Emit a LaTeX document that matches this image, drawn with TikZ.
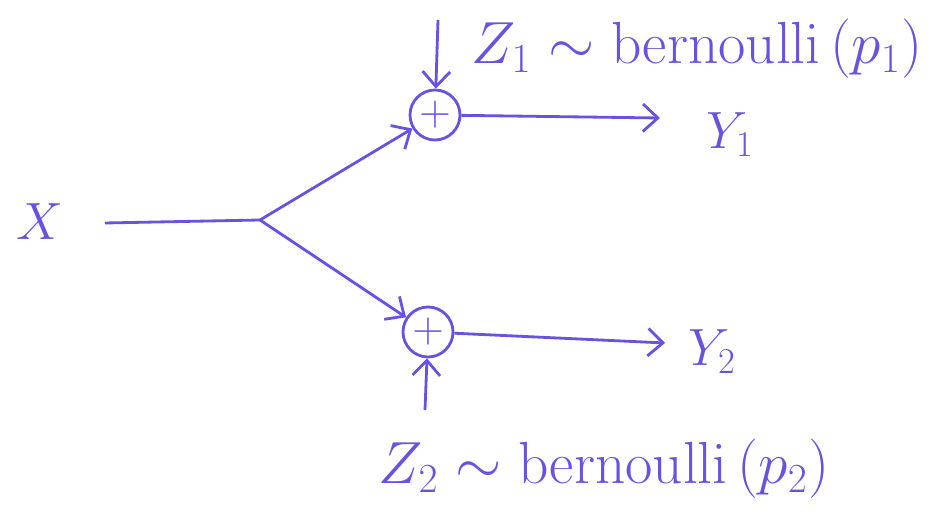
\documentclass[tikz,border=0pt]{standalone}
\usepackage{xcolor}
\usepackage{tikz}
\usetikzlibrary{arrows.meta, positioning, calc}
\definecolor{penink}{HTML}{6A52E0}
\tikzset{
  sumnode/.style={draw=penink, circle, minimum size=1.0cm, inner sep=0pt, line width=1.6pt,
    text=penink, font=\fontsize{24}{26}\selectfont},
  lbl/.style={text=penink, font=\fontsize{24}{26}\selectfont, inner sep=0pt, scale=1.2},
  dist/.style={text=penink, font=\fontsize{24}{26}\selectfont, inner sep=0pt, scale=1.36},
  flow/.style={-{Straight Barb[length=3mm, width=5.5mm, line width=1.6pt]}, draw=penink, line width=1.6pt},
  wire/.style={draw=penink, line width=1.6pt}
}
\begin{document}
\begin{tikzpicture}
\useasboundingbox (0,0) rectangle (18.72,10.48);
\node[lbl] (x) at (0.8,6.04) {$X$};
\coordinate (xin) at (2.1,6.02);
\coordinate (split) at (5.2,6.08);
\node[sumnode] (add1) at (8.7,8.18) {$+$};
\node[sumnode] (add2) at (8.56,3.84) {$+$};
\coordinate (z1in) at (8.76,10.08);
\coordinate (z2in) at (8.5,2.28);
\coordinate (y1end) at (13.2,8.12);
\coordinate (y2end) at (13.3,3.62);
\node[lbl] (y1) at (14.6,7.78) {$Y_1$};
\node[lbl] (y2) at (14.24,3.44) {$Y_2$};
\node[dist] (z1) at (13.94,9.5) {$Z_1 \sim \mathrm{bernoulli}\,(p_1)$};
\node[dist] (z2) at (12.08,1.1) {$Z_2 \sim \mathrm{bernoulli}\,(p_2)$};
\draw[wire] (xin) -- (split);
\draw[flow] (split) -- (add1);
\draw[flow] (split) -- (add2);
\draw[flow] (z1in) -- (add1);
\draw[flow] (z2in) -- (add2);
\draw[flow] (add1) -- (y1end);
\draw[flow] (add2) -- (y2end);
\end{tikzpicture}
\end{document}
